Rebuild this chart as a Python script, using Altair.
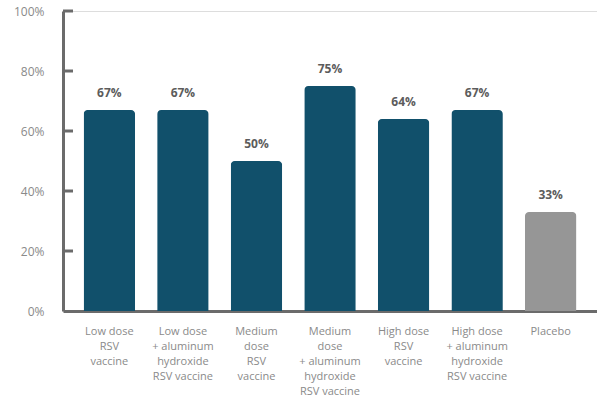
import altair as alt
import pandas as pd

categories = [
    "Low dose|RSV|vaccine",
    "Low dose|+ aluminum|hydroxide|RSV vaccine",
    "Medium|dose|RSV|vaccine",
    "Medium|dose|+ aluminum|hydroxide|RSV vaccine",
    "High dose|RSV|vaccine",
    "High dose|+ aluminum|hydroxide|RSV vaccine",
    "Placebo",
]
values = [0.67, 0.67, 0.50, 0.75, 0.64, 0.67, 0.33]
groups = ["vaccine", "vaccine", "vaccine", "vaccine", "vaccine", "vaccine", "placebo"]
tick_values = [0.2, 0.4, 0.6, 0.8, 1.0]

df = pd.DataFrame({"cat": categories, "val": values, "grp": groups})
ticks_df = pd.DataFrame({"v": tick_values})

FONT = "Open Sans"
AXIS_COLOR = "#6b6b6b"

x_enc = alt.X(
    "cat:N",
    sort=categories,
    scale=alt.Scale(paddingInner=0.3, paddingOuter=0.28),
    axis=alt.Axis(
        title=None,
        labelAngle=0,
        labelExpr="split(datum.label, '|')",
        labelFont=FONT,
        labelFontSize=11,
        labelColor="#8a8a8a",
        labelLineHeight=15,
        labelPadding=14,
        ticks=False,
        domainColor=AXIS_COLOR,
        domainWidth=3,
        labelLimit=200,
    ),
)

y_scale = alt.Scale(domain=[0, 1], nice=False)

bars = alt.Chart(df).mark_bar(cornerRadiusTopLeft=4, cornerRadiusTopRight=4).encode(
    x=x_enc,
    y=alt.Y(
        "val:Q",
        scale=y_scale,
        axis=alt.Axis(
            title=None,
            values=[0, 0.2, 0.4, 0.6, 0.8, 1.0],
            format=".0%",
            grid=False,
            ticks=False,
            labelFont=FONT,
            labelFontSize=12,
            labelColor="#8a8a8a",
            labelPadding=19,
            domainColor=AXIS_COLOR,
            domainWidth=3,
        ),
    ),
    color=alt.Color(
        "grp:N",
        scale=alt.Scale(domain=["vaccine", "placebo"], range=["#11506b", "#969696"]),
        legend=None,
    ),
)

labels = alt.Chart(df).mark_text(
    baseline="bottom", dy=-10, font=FONT, fontSize=12, fontWeight="bold", color="#5c5c5c"
).encode(
    x=alt.X("cat:N", sort=categories),
    y=alt.Y("val:Q", scale=y_scale),
    text=alt.Text("val:Q", format=".0%"),
)

tick_marks = alt.Chart(ticks_df).mark_rule(color=AXIS_COLOR, strokeWidth=3).encode(
    y=alt.Y("v:Q", scale=y_scale),
    x=alt.value(0),
    x2=alt.value(10),
)

chart = alt.layer(bars, labels, tick_marks).properties(
    width=534,
    height=300,
    padding={"left": 63, "top": 11, "right": 0, "bottom": 95},
    autosize="none",
).configure_view(stroke=None).configure(background="white")

chart.save("out.html", embed_options={"renderer": "svg", "actions": False})
